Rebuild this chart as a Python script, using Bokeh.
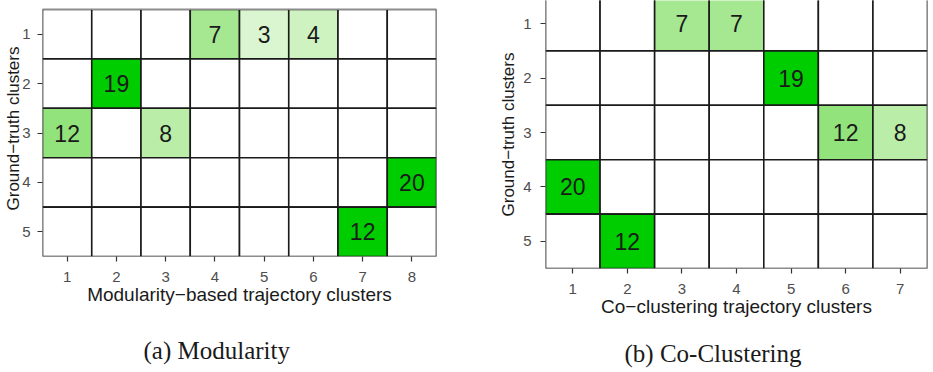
import math
from bokeh.plotting import figure
from bokeh.layouts import row
from bokeh.models import Range1d, FixedTicker, Title
from bokeh.embed import file_html
from bokeh.resources import INLINE
from bokeh.core.properties import value

# ---- data ----
gt_clusters = [1, 2, 3, 4, 5]
mod_clusters = [1, 2, 3, 4, 5, 6, 7, 8]
co_clusters = [1, 2, 3, 4, 5, 6, 7]

mod_counts = [
    [0, 0, 0, 7, 3, 4, 0, 0],
    [0, 19, 0, 0, 0, 0, 0, 0],
    [12, 0, 8, 0, 0, 0, 0, 0],
    [0, 0, 0, 0, 0, 0, 0, 20],
    [0, 0, 0, 0, 0, 0, 12, 0],
]
co_counts = [
    [0, 0, 7, 7, 0, 0, 0],
    [0, 0, 0, 0, 19, 0, 0],
    [0, 0, 0, 0, 0, 12, 8],
    [20, 0, 0, 0, 0, 0, 0],
    [0, 12, 0, 0, 0, 0, 0],
]

mod_xlabel = "Modularity\u2212based trajectory clusters"
co_xlabel = "Co\u2212clustering trajectory clusters"
ylabel = "Ground\u2212truth clusters"
mod_caption = "(a) Modularity"
co_caption = "(b) Co-Clustering"

# ---- colour scale: white -> green3 interpolated in Lab ----
def _lin(c):
    c = c / 255.0
    return c / 12.92 if c <= 0.04045 else ((c + 0.055) / 1.055) ** 2.4

def _gam(c):
    c = 12.92 * c if c <= 0.0031308 else 1.055 * c ** (1 / 2.4) - 0.055
    return max(0, min(255, round(c * 255)))

def rgb2lab(r, g, b):
    r, g, b = _lin(r), _lin(g), _lin(b)
    X = (0.4124 * r + 0.3576 * g + 0.1805 * b) / 0.95047
    Y = (0.2126 * r + 0.7152 * g + 0.0722 * b)
    Z = (0.0193 * r + 0.1192 * g + 0.9505 * b) / 1.08883
    f = lambda t: t ** (1 / 3) if t > 0.008856 else 7.787 * t + 16 / 116
    fx, fy, fz = f(X), f(Y), f(Z)
    return 116 * fy - 16, 500 * (fx - fy), 200 * (fy - fz)

def lab2rgb(L, a, b):
    fy = (L + 16) / 116
    fx = fy + a / 500
    fz = fy - b / 200
    finv = lambda t: t ** 3 if t ** 3 > 0.008856 else (t - 16 / 116) / 7.787
    X, Y, Z = finv(fx) * 0.95047, finv(fy), finv(fz) * 1.08883
    r = 3.2406 * X - 1.5372 * Y - 0.4986 * Z
    g = -0.9689 * X + 1.8758 * Y + 0.0415 * Z
    bb = 0.0557 * X - 0.2040 * Y + 1.0570 * Z
    return "#%02x%02x%02x" % (_gam(r), _gam(g), _gam(bb))

LOW = rgb2lab(255, 255, 255)
HIGH = rgb2lab(0, 205, 0)

def colour(t):
    return lab2rgb(*[lo + (hi - lo) * t for lo, hi in zip(LOW, HIGH)])


def panel(counts, xcats, xlabel, caption, fw, fh, mleft, mright,
          yend, cap_offset, cap_standoff, ylab_standoff, ytick_standoff):
    xs, ys, fills, txt_x, txt_y, txt = [], [], [], [], [], []
    for i, r in enumerate(gt_clusters):
        rowvals = counts[i]
        tot = sum(rowvals)
        for j, c in enumerate(xcats):
            v = rowvals[j]
            xs.append(c)
            ys.append(r)
            fills.append(colour(v / tot) if v > 0 else "#ffffff")
            if v > 0:
                txt_x.append(c)
                txt_y.append(r)
                txt.append(str(v))
    p = figure(frame_width=fw, frame_height=fh, title=None,
               x_range=Range1d(0.5, len(xcats) + 0.5),
               y_range=Range1d(5.5, yend),
               output_backend="svg", toolbar_location=None,
               min_border_left=mleft, min_border_right=mright,
               min_border_top=0, min_border_bottom=0)
    p.rect(x=xs, y=ys, width=1, height=1, fill_color=fills,
           line_color="#1a1a1a", line_width=1.6)
    # grey border around the tile grid
    ncol = len(xcats)
    p.rect(x=[(xcats[0] + xcats[-1]) / 2], y=[(gt_clusters[0] + gt_clusters[-1]) / 2],
           width=ncol, height=len(gt_clusters), fill_color=None,
           line_color="#8c8c8c", line_width=1.2)
    p.text(x=txt_x, y=txt_y, text=txt, text_align="center",
           text_baseline="middle", text_font=value("Liberation Sans"),
           text_font_size="23px", text_color="#1a1a1a")
    p.xgrid.visible = False
    p.ygrid.visible = False
    p.outline_line_color = None
    p.xaxis.ticker = FixedTicker(ticks=xcats)
    p.yaxis.ticker = FixedTicker(ticks=gt_clusters)
    for ax in (p.xaxis[0], p.yaxis[0]):
        ax.axis_line_color = None
        ax.major_tick_line_color = "#333333"
        ax.major_tick_line_width = 1.2
        ax.major_tick_out = 5
        ax.major_tick_in = 0
        ax.minor_tick_line_color = None
        ax.major_label_text_font = "Liberation Sans"
        ax.major_label_text_font_size = "15px"
        ax.major_label_text_color = "#4d4d4d"
        ax.axis_label_text_font = "Liberation Sans"
        ax.axis_label_text_font_style = "normal"
        ax.axis_label_text_color = "#1a1a1a"
    p.xaxis.axis_label_text_font_size = "19px"
    p.yaxis.axis_label_text_font_size = "17px"
    p.xaxis.axis_label = xlabel
    p.yaxis.axis_label = ylabel
    p.xaxis.major_label_standoff = 10
    p.xaxis.axis_label_standoff = -1
    p.yaxis.major_label_standoff = ytick_standoff
    p.yaxis.axis_label_standoff = ylab_standoff
    p.yaxis.major_label_orientation = "horizontal"
    t = Title(text=caption, text_font="Liberation Serif", text_font_size="25px",
              text_font_style="normal", text_color="#1a1a1a", align="left",
              offset=cap_offset, standoff=cap_standoff)
    p.add_layout(t, "below")
    p.background_fill_color = "white"
    p.border_fill_color = "white"
    return p


# left panel: tile grid starts 9 px below the top, row height ~49.4 px
p1 = panel(mod_counts, mod_clusters, mod_xlabel, mod_caption,
           394, 256, 42, 30, 0.5 - 9 / 49.4, 101, 54, -4, 7)
# right panel: top row slightly cut at the top edge
p2 = panel(co_counts, co_clusters, co_xlabel, co_caption,
           382, 268, 79, 6, 0.573, 79, 36, 2, 9)

layout = row(p1, p2)
open("out.html", "w").write(file_html(layout, INLINE))
